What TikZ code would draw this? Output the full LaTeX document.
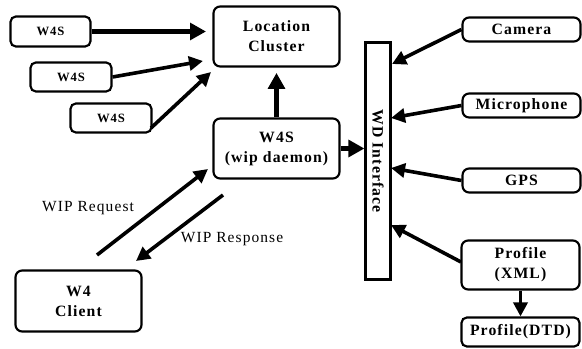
\documentclass[tikz,border=0pt]{standalone}
\usepackage{fontspec}
\setmainfont[LetterSpace=7]{Liberation Serif}
\usetikzlibrary{arrows.meta}
\begin{document}
\begin{tikzpicture}[x=0.75pt,y=-0.75pt,
  box/.style={draw, line width=1.6pt, rounded corners=5pt, inner sep=0pt, align=center,
    font=\bfseries\fontsize{11.8}{15}\selectfont},
  sbox/.style={box, rounded corners=4pt, font=\bfseries\fontsize{9.5}{11}\selectfont},
  arr/.style={line width=2.7pt, -{Triangle[length=10.5pt,width=10.5pt]}},
  tarr/.style={line width=3.9pt, -{Triangle[length=12pt,width=12.5pt]}},
  lab/.style={font=\fontsize{11.6}{14}\selectfont, inner sep=0pt}]
\useasboundingbox (0,0) rectangle (582,349);
% boxes
\node[sbox, minimum width=60pt, minimum height=22.5pt] (w1) at (50.5,31.5) {W4S};
\node[sbox, minimum width=60.75pt, minimum height=21.75pt] (w2) at (71,77) {W4S};
\node[sbox, minimum width=60.75pt, minimum height=21.75pt] (w3) at (111,118) {W4S};
\node[box, minimum width=94.5pt, minimum height=45pt] (lc) at (276.5,36.5) {Location\\Cluster};
\node[box, minimum width=94.5pt, minimum height=45pt] (wd) at (276.5,148.5) {W4S\\(wip daemon)};
\node[draw, line width=1.6pt, inner sep=0pt, minimum width=18.75pt, minimum height=177.75pt] (wdi) at (378,161) {};
\node[rotate=-90, inner sep=0pt, font=\bfseries\fontsize{11.8}{15}\selectfont] (wdit) at (wdi.center) {WD Interface};
\node[box, minimum width=88.5pt, minimum height=18pt] (cam) at (521.5,29.5) {Camera};
\node[box, minimum width=88.5pt, minimum height=18pt] (mic) at (521.5,105.5) {Microphone};
\node[box, minimum width=88.5pt, minimum height=18pt] (gps) at (521.5,180.5) {GPS};
\node[box, minimum width=88.5pt, minimum height=36.75pt] (pxml) at (520.5,265) {Profile\\(XML)};
\node[box, minimum width=88.5pt, minimum height=21.75pt, rounded corners=4pt] (pdtd) at (520.5,332) {Profile(DTD)};
\node[box, minimum width=94.5pt, minimum height=45.75pt] (cl) at (78.5,301) {W4\\Client};
% labels
\node[lab] (lreq) at (88,208) {WIP Request};
\node[lab] (lres) at (232,239) {WIP Response};
% arrow tips / free ends
\coordinate (t1) at (206,31.5);
\coordinate (t2) at (203,61);
\coordinate (s3) at (151,128);
\coordinate (t3) at (211,72);
\coordinate (tc) at (392,64);
\coordinate (tm) at (391,118);
\coordinate (tg) at (391,168);
\coordinate (sp) at (461,262);
\coordinate (tp) at (391,225);
\coordinate (rqs) at (97,255);
\coordinate (rqt) at (208,169);
\coordinate (rss) at (223,195);
\coordinate (rst) at (136,261);
% arrows
\draw[tarr] (w1.east) -- (t1);
\draw[arr] (w2.east) -- (t2);
\draw[arr] (s3) -- (t3);
\draw[tarr, shorten >=4pt] (wd.north) -- (lc.south);
\draw[tarr] (wd.east) -- (wd.east -| wdi.west);
\draw[arr] (cam.west) -- (tc);
\draw[arr] (mic.west) -- (tm);
\draw[arr] (gps.west) -- (tg);
\draw[arr] (sp) -- (tp);
\draw[arr] (pxml.south) -- (pdtd.north);
\draw[arr] (rqs) -- (rqt);
\draw[arr] (rss) -- (rst);
\end{tikzpicture}
\end{document}
